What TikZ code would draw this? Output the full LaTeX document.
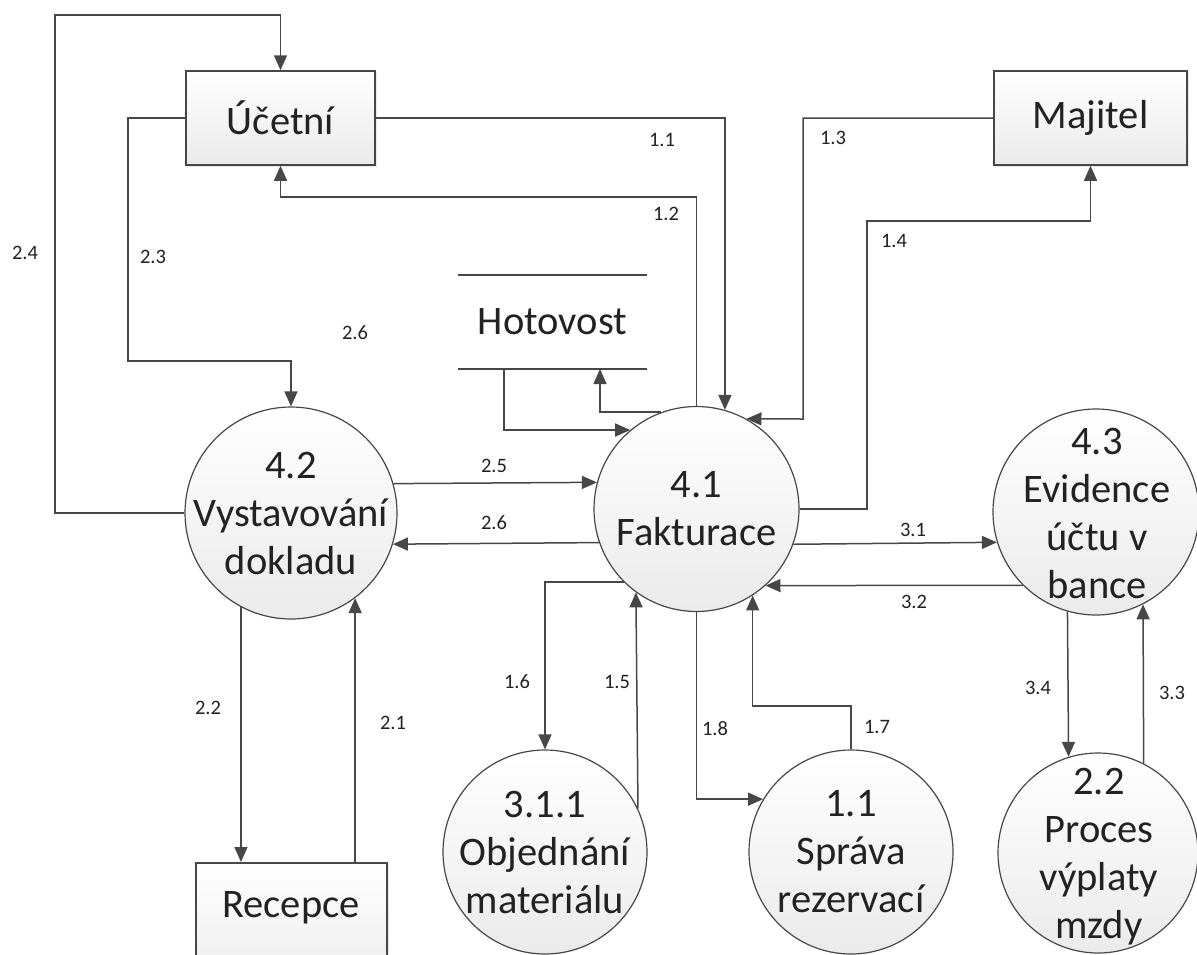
\documentclass[tikz,border=0pt]{standalone}
\usepackage{fontspec}
\setmainfont{Carlito}
\usetikzlibrary{arrows.meta,shadows}
\definecolor{ln}{HTML}{474747}
\definecolor{tx}{HTML}{222222}
\begin{document}
\begin{tikzpicture}[x=1pt,y=-1pt,
  every node/.style={font=\fontsize{40.5}{48}\selectfont, text=tx},
  conn/.style={draw=ln, line width=1.5pt, -{Triangle[length=15pt,width=13pt]}},
  plain/.style={draw=ln, line width=1.5pt},
  proc/.style={circle, draw=ln, line width=1.2pt, inner sep=0pt, top color=white, bottom color=black!8},
  ptext/.style={align=center, inner sep=0pt},
  ent/.style={rectangle, draw=ln, line width=1.5pt, inner sep=0pt, top color=white, bottom color=black!8,
    drop shadow={opacity=0.18, shadow xshift=2pt, shadow yshift=-2pt}},
  lab/.style={font=\fontsize{20.5}{24}\selectfont, text=tx, inner sep=0pt}]
\useasboundingbox (0,0) rectangle (1197,954);
\fill[white] (0,0) rectangle (1197,954);

% external entities
\node[ent, minimum width=189pt, minimum height=94pt] (ucet) at (280.5,118) {Účetní};
\node[ent, minimum width=193pt, minimum height=94pt] (maj) at (1090.5,118) {Majitel};
\node[ent, minimum width=191pt, minimum height=130pt, anchor=north] (rec) at (291.5,862) {};
\node[inner sep=0pt] (recT) at (291,908) {Recepce};

% data store
\node[minimum width=189pt, minimum height=94pt, inner sep=0pt] (hot) at (552.5,322) {Hotovost};
\draw[plain] (hot.north west) -- (hot.north east);
\draw[plain] (hot.south west) -- (hot.south east);
\coordinate (hotIn) at (504,369);
\coordinate (hotOut) at (600,369);

% processes
\node[proc, minimum size=212pt] (c42) at (291,513) {};
\node[ptext] (c42t) at (291,513) {4.2\\Vystavování\\dokladu};
\node[proc, minimum size=205pt] (c41) at (696.5,509) {};
\node[ptext] (c41t) at (696.5,509) {4.1\\Fakturace};
\node[proc, minimum size=206pt] (c43) at (1096,512) {};
\node[ptext] (c43t) at (1097,513) {4.3\\Evidence\\účtu v\\bance};
\node[proc, minimum size=204pt] (c311) at (545,852) {};
\node[ptext] (c311t) at (545,852) {3.1.1\\Objednání\\materiálu};
\node[proc, minimum size=204pt] (c11) at (851,852) {};
\node[ptext] (c11t) at (851,852) {1.1\\Správa\\rezervací};
\node[proc, minimum size=200pt] (c22) at (1098,853) {};
\node[ptext] (c22t) at (1099,857) {2.2\\Proces\\výplaty\\mzdy};

% bend points
\coordinate (k24) at (55,15);
\coordinate (k23) at (128,361);
\coordinate (k12) at (280.5,197);
\coordinate (k13) at (803,419);
\coordinate (k14) at (867,221);
\coordinate (k17) at (851,706);

% connectors
\draw[conn] (c42.west) -| (k24) -| (ucet.north);
\draw[conn] (ucet.west) -| (k23) -| (c42.north);
\draw[conn] (ucet.east) -| (c41.74.4);
\draw[conn] (c41.north) |- (k12) -- (ucet.south);
\draw[conn] (maj.west) -| (k13) -- (c41.61.4);
\draw[conn] (c41.east) -| (k14) -| (maj.south);
\draw[conn] (hotIn) |- (c41.130.5);
\draw[conn] (c41.110.5) -| (hotOut);
\draw[conn] (c42.16.4) -- (c41.165.3);
\draw[conn] (c41.199.4) -- (c42.343.6);
\draw[conn] (c41.340.6) -- (c43.197.5);
\draw[conn] (c43.225.1) -- (c41.312.2);
\draw[conn] (c41.225.4) -| (c311.north);
\draw[conn] (c311.25.6) -- (c41.234.5);
\draw[conn] (c41.south) |- (c11.149.4);
\draw[conn] (c11.north) -- (k17) -| (c41.303.5);
\draw[conn] (c43.254.2) -- (c22.107.5);
\draw[conn] (c22.63.3) -- (c43.297.1);
\draw[conn] (c42.242.5) -- (c42.242.5 |- rec.north);
\draw[conn] (c42.307.8 |- rec.north) -- (c42.307.8);

% flow labels
\node[lab] (l11) at (662,140) {1.1};
\node[lab] (l12) at (666,214) {1.2};
\node[lab] (l13) at (833,138) {1.3};
\node[lab] (l14) at (894,241) {1.4};
\node[lab] (l23) at (153,257) {2.3};
\node[lab] (l24) at (25,253) {2.4};
\node[lab] (l26a) at (355,333) {2.6};
\node[lab] (l25) at (494,466) {2.5};
\node[lab] (l26) at (494,523) {2.6};
\node[lab] (l31) at (913,530) {3.1};
\node[lab] (l32) at (914,602) {3.2};
\node[lab] (l16) at (517,682) {1.6};
\node[lab] (l15) at (617,682) {1.5};
\node[lab] (l18) at (715,729) {1.8};
\node[lab] (l17) at (877,727) {1.7};
\node[lab] (l34) at (1038,688) {3.4};
\node[lab] (l33) at (1172,693) {3.3};
\node[lab] (l22) at (208,708) {2.2};
\node[lab] (l21) at (393,723) {2.1};
\end{tikzpicture}
\end{document}
